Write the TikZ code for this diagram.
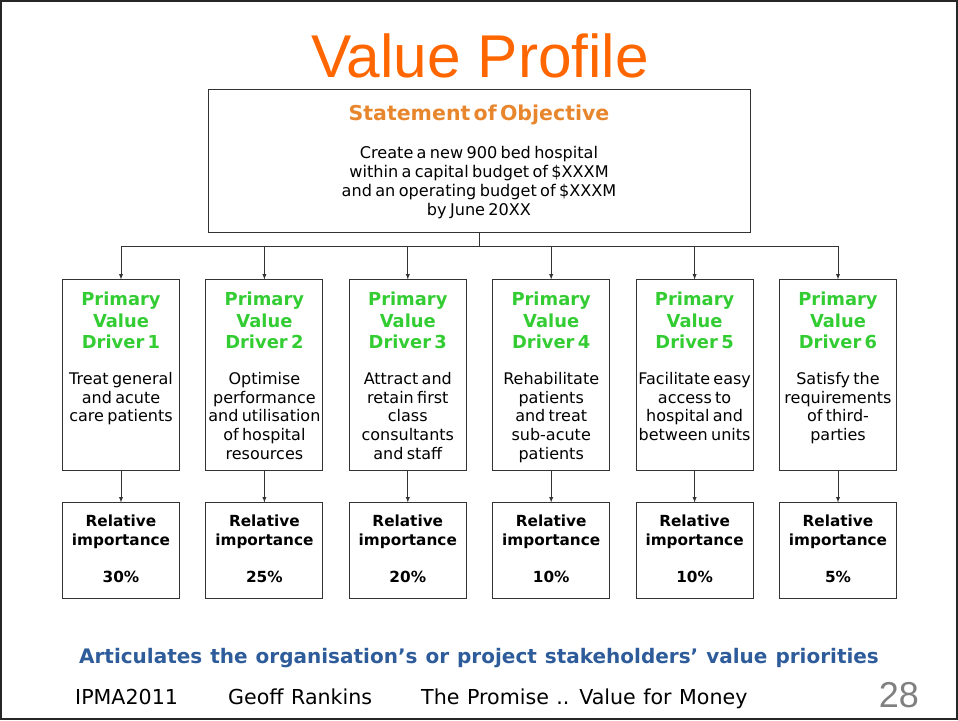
\documentclass[tikz,border=0pt]{standalone}
\usepackage{fontspec}
\setmainfont[WordSpace=1.15]{DejaVu Sans}
\newfontfamily\arialfont{Liberation Sans}
\usepackage{tikz}
\usetikzlibrary{matrix}

\definecolor{titleorange}{HTML}{FF6600}
\definecolor{objorange}{HTML}{E8862E}
\definecolor{drvgreen}{HTML}{33CC33}
\definecolor{noteblue}{HTML}{2E5C9A}
\definecolor{boxgray}{HTML}{333333}

\newcommand\pvd[2]{{\color{drvgreen}\fontsize{17.9pt}{21.5pt}\selectfont\bfseries Primary\\Value\\Driver #1\par}\vspace{17pt}{\fontsize{16pt}{18.75pt}\selectfont #2\par}}
\newcommand\relimp[1]{{\fontsize{15.3pt}{19pt}\selectfont\bfseries Relative\\importance\\[18pt]#1\%\par}}

\tikzset{
	lbl/.style={inner sep=0pt},
	foot/.style={lbl,anchor=base west,font=\fontsize{20.6pt}{22pt}\selectfont},
	objbox/.style={draw=boxgray,line width=1pt,inner sep=0pt,outer sep=0pt,text width=542pt,align=center,text height=31pt,text depth=112pt,anchor=north},
	drvbox/.style={draw=boxgray,line width=1pt,inner sep=0pt,outer sep=0pt,text width=117pt,align=center,text height=26pt,text depth=165pt},
	impbox/.style={draw=boxgray,line width=1pt,inner sep=0pt,outer sep=0pt,text width=117pt,align=center,text height=24pt,text depth=72pt},
	link/.style={draw=boxgray,line width=0.9pt,-latex},
}

\begin{document}
\begin{tikzpicture}[x=1pt,y=-1pt]
	\useasboundingbox (0,0) rectangle (958,720);
	\draw[line width=2.5pt,black!85] (1,1) rectangle (957,719);

	\node[lbl,anchor=base,text=titleorange,font=\arialfont\fontsize{60.4pt}{62pt}\selectfont] (title) at (480,77) {Value Profile};

	\node[objbox] (obj) at (479,89) {{\color{objorange}\fontsize{20.5pt}{22pt}\selectfont\bfseries Statement of Objective\par}\vspace{19pt}{\fontsize{16.1pt}{19pt}\selectfont Create a new 900 bed hospital\\within a capital budget of \$XXXM\\and an operating budget of \$XXXM\\by June 20XX\par}};

	\matrix [row sep=31pt,column sep=25.4pt,inner sep=0pt,outer sep=0pt,anchor=north west] (pvd) at (62,279)
	{
	\node[drvbox] (drv1) {\pvd{1}{Treat general\\and acute\\care patients}}; &
	\node[drvbox] (drv2) {\pvd{2}{Optimise\\performance\\and utilisation\\of hospital\\resources}}; &
	\node[drvbox] (drv3) {\pvd{3}{Attract and\\retain first\\class\\consultants\\and staff}}; &
	\node[drvbox] (drv4) {\pvd{4}{Rehabilitate\\patients\\and treat\\sub-acute\\patients}}; &
	\node[drvbox] (drv5) {\pvd{5}{Facilitate easy\\access to\\hospital and\\between units}}; &
	\node[drvbox] (drv6) {\pvd{6}{Satisfy the\\requirements\\of third-\\parties}};\\
	\node[impbox] (imp1) {\relimp{30}}; &
	\node[impbox] (imp2) {\relimp{25}}; &
	\node[impbox] (imp3) {\relimp{20}}; &
	\node[impbox] (imp4) {\relimp{10}}; &
	\node[impbox] (imp5) {\relimp{10}}; &
	\node[impbox] (imp6) {\relimp{5}};\\
	};

	\foreach \c in {1,...,6}{
		\draw[link] (obj.south) -- ++(0,14) -| (drv\c.north);
		\draw[link] (drv\c.south) -- (imp\c.north);
	}

	\node[lbl,anchor=base,text=noteblue,font=\bfseries\fontsize{20pt}{22pt}\selectfont] (note) at (479,663) {Articulates the organisation’s or project stakeholders’ value priorities};

	\node[foot] (conf) at (75,704) {IPMA2011};
	\node[foot] (author) at (228,704) {Geoff Rankins};
	\node[foot] (talk) at (421,704) {The Promise .. Value for Money};
	\node[lbl,anchor=base east,text=black!50,font=\arialfont\fontsize{36pt}{38pt}\selectfont] (page) at (919,707) {28};
\end{tikzpicture}
\end{document}
